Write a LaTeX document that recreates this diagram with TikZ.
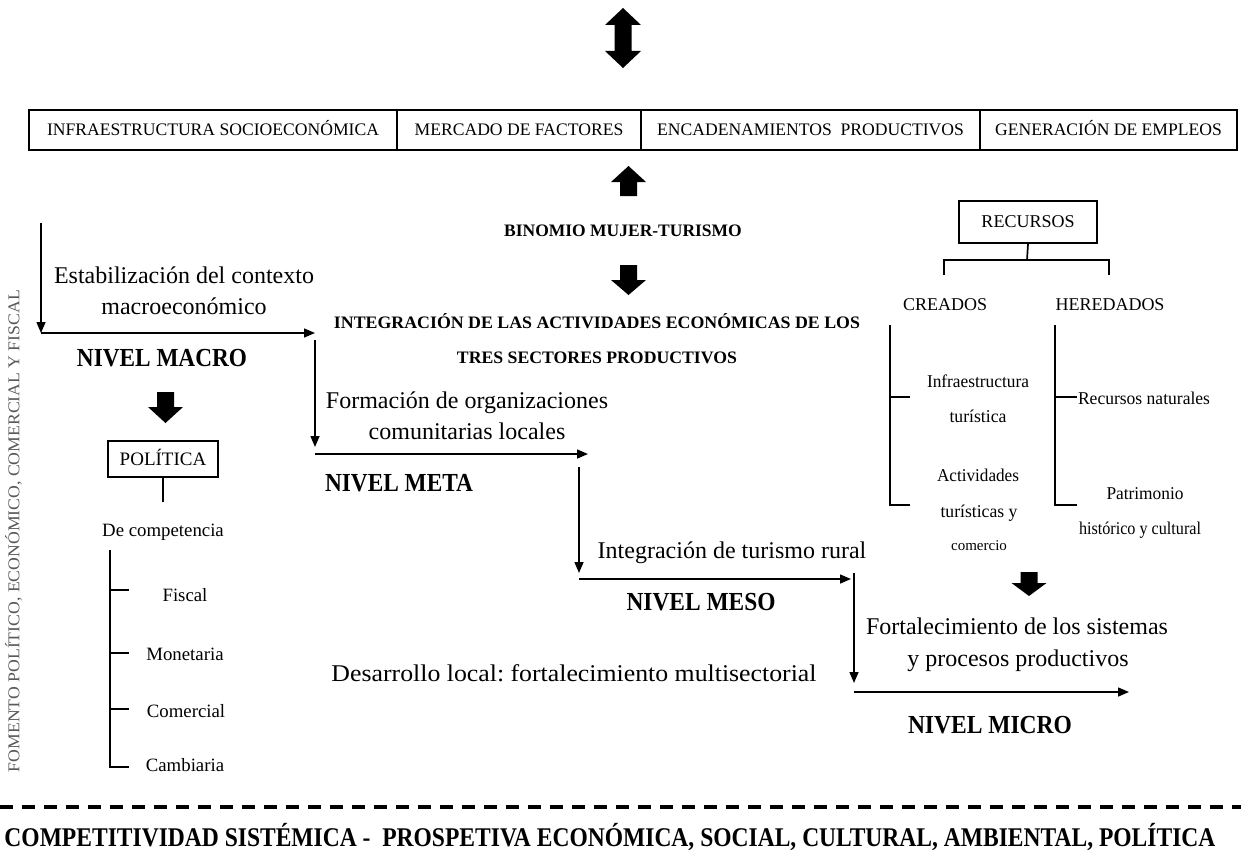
\documentclass[tikz,border=0pt]{standalone}
\usepackage{fontspec}
\setmainfont{Liberation Serif}
\usepackage{graphicx}
\usetikzlibrary{arrows.meta}
\newcommand{\tw}[2]{\resizebox{#1pt}{\height}{#2}}
\newcommand{\fz}[1]{\fontsize{#1}{#1}\selectfont}
% block arrows: x, top, bottom, head length
\newcommand{\barrdown}[4]{\fill (#1-8.5,#2) -- (#1+8.5,#2) -- (#1+8.5,#3-#4) -- (#1+17.5,#3-#4) -- (#1,#3) -- (#1-17.5,#3-#4) -- (#1-8.5,#3-#4) -- cycle;}
\newcommand{\barrup}[4]{\fill (#1,#2) -- (#1+17.5,#2+#4) -- (#1+8.5,#2+#4) -- (#1+8.5,#3) -- (#1-8.5,#3) -- (#1-8.5,#2+#4) -- (#1-17.5,#2+#4) -- cycle;}
\newcommand{\barrboth}[4]{\fill (#1,#2) -- (#1+18,#2+#4) -- (#1+8.5,#2+#4) -- (#1+8.5,#3-#4) -- (#1+18,#3-#4) -- (#1,#3) -- (#1-18,#3-#4) -- (#1-8.5,#3-#4) -- (#1-8.5,#2+#4) -- (#1-18,#2+#4) -- cycle;}
\frenchspacing
\begin{document}
\frenchspacing
\begin{tikzpicture}[x=1pt,y=-1pt,
  txt/.style={inner sep=0pt, anchor=center},
  fs/.style={font=\fz{#1}, text height={0.7*#1pt}, text depth={0.2*#1pt}},
  caps/.style={font=\fz{#1}, text height={0.66*#1pt}, text depth=0pt},
  bcaps/.style={font=\fz{#1}\bfseries, text height={0.66*#1pt}, text depth=0pt},
  conn/.style={line width=1.5pt, -{Triangle[length=11pt,width=9pt]}},
  plain/.style={line width=1.7pt},
  topbox/.style={draw, line width=1.7pt, inner sep=0pt, minimum height=40pt, caps=17.6},
  smallbox/.style={draw, line width=1.7pt, inner sep=0pt},
  big/.style={txt, fs=24},
  lvl/.style={txt, bcaps=26},
  pol/.style={txt, fs=18.8},
  res/.style={txt, fs=18}]
\useasboundingbox (0,0) rectangle (1241,859);
\fill[white] (0,0) rectangle (1241,859);

% top double arrow
\barrboth{623}{8}{68}{17}

% top row of boxes
\node[topbox, minimum width=368pt] (b1) at (213,130) {INFRAESTRUCTURA SOCIOECONÓMICA};
\node[topbox, minimum width=244pt] (b2) at (519,130) {MERCADO DE FACTORES};
\node[topbox, minimum width=339pt] (b3) at (810.5,130) {ENCADENAMIENTOS\ \ PRODUCTIVOS};
\node[topbox, minimum width=257pt] (b4) at (1108.5,130) {GENERACIÓN DE EMPLEOS};

% central arrows and titles
\barrup{628.5}{166}{196}{16}
\node[txt, bcaps=17.5] (bin) at (623,231) {BINOMIO MUJER-TURISMO};
\barrdown{628.5}{265}{295}{15}
\node[txt, bcaps=17.5] (int1) at (597,323) {\tw{526}{INTEGRACIÓN DE LAS ACTIVIDADES ECONÓMICAS DE LOS}};
\node[txt, bcaps=17.5] (int2) at (597,358) {\tw{280}{TRES SECTORES PRODUCTIVOS}};

% left rotated text
\node[txt, rotate=90, text=black!65, caps=16.5] (fom) at (14,531) {\tw{482}{FOMENTO POLÍTICO, ECONÓMICO, COMERCIAL Y FISCAL}};

% MACRO level
\coordinate (m0) at (41,223);
\coordinate (m1) at (41,333);
\coordinate (m2) at (315,333);
\draw[conn] (m0) -- (m1);
\draw[conn] (m1) -- (m2);
\node[big] (est1) at (184,277) {Estabilización del contexto};
\node[big] (est2) at (184,308) {macroeconómico};
\node[lvl] (macro) at (162,358) {\tw{170}{NIVEL MACRO}};
\barrdown{165.5}{392}{423}{16}

% POLITICA tree
\node[smallbox, minimum width=110pt, minimum height=36pt, caps=19] (pol) at (163,459) {POLÍTICA};
\coordinate (polst) at (163,502);
\draw[plain] (pol.south) -- (polst);
\node[pol] (dec) at (163,532) {De competencia};
\coordinate (pv0) at (110,550);
\coordinate (pv1) at (110,590);
\coordinate (pv2) at (110,653);
\coordinate (pv3) at (110,709);
\coordinate (pv4) at (110,767);
\draw[plain] (pv0) -- (pv4) -- ++(19,0);
\draw[plain] (pv1) -- ++(19,0);
\draw[plain] (pv2) -- ++(19,0);
\draw[plain] (pv3) -- ++(19,0);
\node[pol] (fis) at (185,597) {Fiscal};
\node[pol] (mon) at (185,656) {Monetaria};
\node[pol] (com) at (186,713) {Comercial};
\node[pol] (cam) at (185,767) {Cambiaria};

% META level
\coordinate (t0) at (315,340);
\coordinate (t1) at (315,447);
\coordinate (t2) at (315,454);
\coordinate (t3) at (588,454);
\draw[conn] (t0) -- (t1);
\draw[conn] (t2) -- (t3);
\node[big] (for1) at (467,402) {Formación de organizaciones};
\node[big] (for2) at (467,433) {comunitarias locales};
\node[lvl] (meta) at (399,483) {\tw{148}{NIVEL META}};

% MESO level
\coordinate (s0) at (579,467);
\coordinate (s1) at (579,573);
\coordinate (s2) at (579,579);
\coordinate (s3) at (851,579);
\draw[conn] (s0) -- (s1);
\draw[conn] (s2) -- (s3);
\node[big] (itr) at (732,552) {Integración de turismo rural};
\node[lvl] (meso) at (701,602) {\tw{149}{NIVEL MESO}};

% MICRO level
\coordinate (c0) at (854,573);
\coordinate (c1) at (854,683);
\coordinate (c2) at (854,692);
\coordinate (c3) at (1129,692);
\draw[conn] (c0) -- (c1);
\draw[conn] (c2) -- (c3);
\node[big] (fo1) at (1017,628) {Fortalecimiento de los sistemas};
\node[big] (fo2) at (1018,660) {y procesos productivos};
\node[big] (des) at (574,675) {\tw{485}{Desarrollo local: fortalecimiento multisectorial}};
\node[lvl] (micro) at (990,725) {\tw{164}{NIVEL MICRO}};

% RECURSOS tree
\node[smallbox, minimum width=138pt, minimum height=42pt, caps=18] (rec) at (1028,222) {RECURSOS};
\coordinate (rj) at (1027,260);
\coordinate (rl) at (944,260);
\coordinate (rr) at (1109,260);
\draw[plain] (rec.south) -- (rj);
\draw[plain] (rl) ++(0,15) -- (rl) -- (rr) -- ++(0,15);
\node[txt, caps=18] (cre) at (945,305) {CREADOS};
\node[txt, caps=18] (her) at (1110,305) {HEREDADOS};
\coordinate (cv0) at (890,325);
\coordinate (cv1) at (890,397);
\coordinate (cv2) at (890,505);
\draw[plain] (cv0) -- (cv2) -- ++(20,0);
\draw[plain] (cv1) -- ++(20,0);
\coordinate (hv0) at (1055,325);
\coordinate (hv1) at (1055,397);
\coordinate (hv2) at (1055,505);
\draw[plain] (hv0) -- (hv2) -- ++(22,0);
\draw[plain] (hv1) -- ++(22,0);
\node[res] (inf1) at (978,383) {\tw{102}{Infraestructura}};
\node[res] (inf2) at (978,418) {\tw{57}{turística}};
\node[res] (act1) at (978,477) {\tw{82}{Actividades}};
\node[res] (act2) at (979,513) {\tw{77}{turísticas y}};
\node[txt, fs=15] (act3) at (979,547) {comercio};
\node[res] (rnat) at (1144,400) {\tw{132}{Recursos naturales}};
\node[res] (pat1) at (1145,495) {\tw{77}{Patrimonio}};
\node[res] (pat2) at (1140,530) {\tw{122}{histórico y cultural}};
\barrdown{1029}{572}{596}{13}

% bottom
\coordinate (dl) at (0,807);
\coordinate (dr) at (1241,807);
\draw[line width=3.5pt, dash pattern=on 13pt off 9pt] (dl) -- (dr);
\node[txt, bcaps=27] (bot) at (610,838) {\tw{1211}{COMPETITIVIDAD SISTÉMICA -\ \ PROSPETIVA ECONÓMICA, SOCIAL, CULTURAL, AMBIENTAL, POLÍTICA}};
\end{tikzpicture}
\end{document}
